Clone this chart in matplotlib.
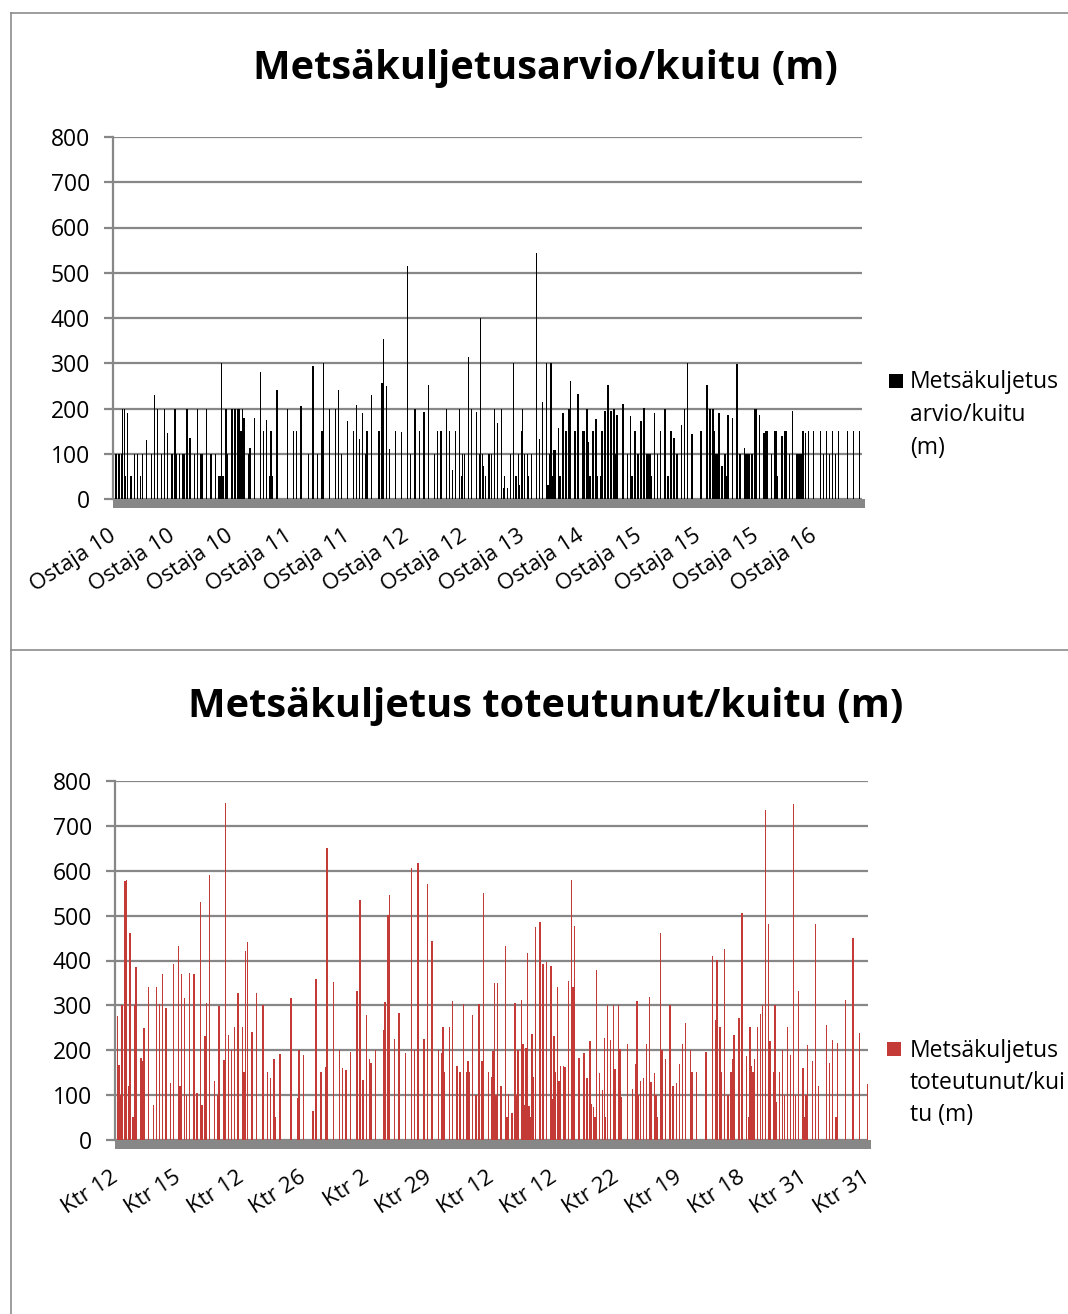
import matplotlib
matplotlib.use("Agg")
from matplotlib import pyplot as plt
from matplotlib.patches import Rectangle
from matplotlib.lines import Line2D
from matplotlib.transforms import ScaledTranslation
import numpy as np

plt.rcParams['font.family'] = ['Open Sans', 'DejaVu Sans']

# --- data: top chart, estimated haul distance per row (m) ---
arvio = [
    0, 100, 100, 100, 100, 100, 200, 200, 50, 190, 0, 50, 50, 0, 100, 0, 100, 0, 50, 100,
    0, 0, 130, 0, 0, 100, 0, 230, 0, 200, 0, 0, 100, 0, 200, 0, 145, 0, 0, 100,
    0, 200, 100, 0, 100, 0, 100, 100, 0, 200, 0, 135, 0, 0, 100, 0, 200, 0, 100, 100,
    0, 0, 200, 0, 0, 100, 0, 0, 100, 0, 50, 50, 300, 50, 0, 200, 100, 0, 0, 200,
    0, 200, 0, 200, 200, 150, 200, 180, 0, 0, 100, 112, 0, 0, 180, 0, 0, 0, 280, 0,
    150, 0, 175, 0, 50, 150, 50, 0, 0, 240, 0, 0, 0, 0, 0, 0, 200, 0, 0, 0,
    150, 0, 150, 0, 0, 205, 0, 0, 0, 0, 100, 0, 0, 295, 0, 0, 100, 0, 0, 150,
    300, 0, 0, 0, 200, 0, 0, 0, 200, 0, 240, 0, 100, 0, 0, 0, 173, 0, 0, 0,
    150, 0, 208, 0, 133, 0, 190, 0, 100, 150, 0, 0, 229, 0, 0, 0, 0, 150, 0, 257,
    353, 0, 250, 0, 111, 0, 0, 0, 150, 0, 0, 0, 149, 0, 0, 0, 515, 0, 100, 0,
    0, 200, 0, 0, 150, 0, 0, 193, 0, 0, 251, 0, 0, 0, 100, 0, 150, 0, 150, 150,
    0, 0, 200, 0, 150, 0, 64, 0, 150, 0, 0, 200, 50, 100, 100, 0, 0, 313, 0, 200,
    0, 0, 193, 0, 100, 401, 100, 72, 50, 0, 100, 100, 100, 0, 200, 0, 168, 0, 0, 200,
    24, 50, 0, 24, 0, 100, 0, 301, 50, 50, 100, 31, 150, 200, 100, 0, 100, 50, 0, 100,
    0, 0, 544, 0, 133, 0, 215, 0, 0, 301, 31, 100, 301, 50, 109, 109, 0, 157, 50, 0,
    190, 0, 150, 0, 200, 261, 0, 0, 150, 0, 231, 0, 0, 150, 150, 0, 200, 127, 50, 0,
    150, 0, 177, 50, 0, 50, 150, 0, 194, 0, 251, 0, 194, 0, 200, 100, 185, 0, 0, 0,
    209, 0, 0, 100, 0, 183, 50, 0, 150, 0, 100, 0, 172, 0, 201, 0, 100, 100, 100, 50,
    0, 190, 0, 100, 0, 150, 0, 0, 200, 0, 50, 0, 150, 0, 135, 0, 100, 0, 0, 164,
    0, 200, 0, 301, 0, 0, 144, 0, 0, 0, 0, 0, 150, 0, 0, 0, 251, 0, 200, 0,
    200, 150, 100, 100, 190, 0, 72, 0, 100, 50, 185, 0, 0, 178, 0, 0, 298, 0, 100, 0,
    0, 113, 100, 100, 100, 0, 100, 0, 200, 200, 0, 185, 0, 0, 145, 150, 150, 0, 0, 100,
    0, 150, 150, 50, 0, 0, 139, 0, 150, 150, 0, 100, 0, 194, 0, 0, 100, 100, 100, 100,
    150, 0, 145, 0, 150, 0, 0, 150, 0, 0, 0, 0, 150, 0, 100, 0, 150, 0, 100, 0,
    150, 0, 100, 0, 150, 0, 0, 0, 0, 0, 150, 0, 0, 0, 150, 0, 0, 0, 150, 0,
]
arvio_labels = ['Ostaja 10', 'Ostaja 10', 'Ostaja 10', 'Ostaja 11', 'Ostaja 11',
                'Ostaja 12', 'Ostaja 12', 'Ostaja 13', 'Ostaja 14', 'Ostaja 15',
                'Ostaja 15', 'Ostaja 15', 'Ostaja 16']

# --- data: bottom chart, realised haul distance per row (m) ---
toteutunut = [
    0, 276, 167, 100, 300, 0, 577, 580, 120, 461, 0, 51, 300, 386, 0, 0, 183, 176, 250, 0,
    0, 341, 0, 0, 78, 0, 341, 0, 303, 0, 370, 0, 294, 0, 0, 127, 0, 392, 0, 0,
    432, 120, 370, 0, 316, 100, 0, 372, 0, 0, 370, 0, 105, 0, 530, 78, 0, 232, 305, 0,
    591, 0, 0, 131, 0, 100, 299, 0, 0, 178, 751, 0, 234, 0, 200, 0, 252, 0, 328, 0,
    0, 252, 152, 421, 441, 0, 0, 241, 0, 0, 328, 0, 0, 0, 300, 0, 0, 152, 0, 138,
    0, 180, 51, 0, 0, 192, 0, 0, 0, 0, 0, 0, 316, 0, 0, 0, 94, 200, 0, 0,
    189, 0, 0, 0, 0, 0, 65, 0, 359, 0, 0, 152, 0, 0, 163, 651, 0, 0, 0, 352,
    0, 0, 0, 200, 0, 160, 0, 156, 0, 0, 196, 0, 0, 0, 332, 0, 535, 0, 134, 0,
    279, 0, 180, 172, 0, 0, 200, 0, 0, 0, 0, 245, 308, 0, 501, 546, 0, 0, 225, 0,
    0, 283, 0, 0, 0, 194, 0, 0, 0, 606, 0, 200, 0, 617, 0, 0, 0, 225, 0, 571,
    0, 0, 443, 0, 0, 0, 200, 0, 194, 252, 152, 0, 0, 252, 0, 310, 0, 0, 165, 0,
    152, 0, 303, 0, 152, 176, 152, 0, 279, 0, 100, 0, 303, 0, 176, 551, 0, 0, 152, 0,
    140, 198, 350, 100, 350, 0, 120, 0, 0, 432, 51, 103, 0, 60, 0, 305, 100, 200, 0, 312,
    214, 78, 205, 417, 76, 51, 236, 140, 475, 0, 0, 486, 0, 392, 0, 397, 0, 0, 388, 91,
    232, 152, 341, 131, 165, 0, 165, 163, 0, 354, 0, 580, 341, 477, 0, 0, 183, 0, 0, 194,
    0, 138, 0, 221, 80, 74, 51, 379, 0, 149, 0, 111, 227, 51, 300, 0, 223, 0, 300, 158,
    0, 300, 203, 96, 0, 0, 0, 214, 0, 0, 114, 0, 169, 310, 100, 131, 0, 138, 0, 214,
    0, 319, 129, 0, 149, 100, 51, 0, 461, 200, 0, 180, 0, 0, 300, 0, 120, 0, 127, 0,
    169, 0, 214, 0, 261, 0, 0, 200, 152, 0, 0, 152, 0, 0, 0, 0, 0, 196, 0, 0,
    0, 410, 0, 267, 401, 0, 252, 152, 0, 426, 0, 100, 0, 152, 180, 234, 0, 0, 272, 0,
    506, 0, 0, 187, 51, 252, 165, 152, 180, 0, 252, 0, 281, 300, 0, 735, 0, 481, 221, 0,
    152, 300, 85, 0, 152, 0, 200, 100, 0, 252, 0, 189, 0, 749, 100, 0, 332, 0, 0, 160,
    51, 100, 212, 0, 0, 176, 0, 481, 0, 120, 0, 0, 0, 0, 256, 0, 172, 0, 223, 0,
    51, 216, 0, 0, 0, 0, 312, 0, 0, 0, 0, 450, 0, 0, 0, 238, 0, 0, 0, 0,
    125,
]
toteutunut_labels = ['Ktr 12', 'Ktr 15', 'Ktr 12', 'Ktr 26', 'Ktr 2', 'Ktr 29',
                     'Ktr 12', 'Ktr 12', 'Ktr 22', 'Ktr 19', 'Ktr 18', 'Ktr 31',
                     'Ktr 31']

GRID = '#878787'
W, H = 1068, 1314


def fx(px):
    return px / W


def fy(py):
    return 1 - py / H


def draw_panel(fig, rect, values, labels, step, color, title, title_y,
               legend_lines, legend_box, legend_y):
    ax = fig.add_axes(rect)
    x = np.arange(len(values))
    ax.bar(x, values, width=0.9, color=color, linewidth=0, antialiased=False)
    ax.set_xlim(-0.5, len(values) - 0.5)
    ax.set_ylim(0, 800)
    ax.set_yticks(range(0, 801, 100))
    ax.yaxis.grid(True, color=GRID, linewidth=1.6)
    ax.set_axisbelow(True)
    for s in ['top', 'right', 'bottom']:
        ax.spines[s].set_visible(False)
    ax.spines['left'].set_color(GRID)
    ax.spines['left'].set_linewidth(1.6)
    ax.tick_params(axis='y', length=6.5, width=1.6, color=GRID,
                   labelsize=16.5, pad=10)
    ax.set_xticks(x[::step])
    ax.set_xticklabels(labels, rotation=33, ha='right', va='top',
                       rotation_mode='anchor', fontsize=16)
    ax.tick_params(axis='x', length=0, pad=19)
    shift = ScaledTranslation(-5 / 100, 0, fig.dpi_scale_trans)
    for lab in ax.get_xticklabels():
        lab.set_transform(lab.get_transform() + shift)
    # grey floor under the bars
    h = 9 / (rect[3] * H)
    ax.add_patch(Rectangle((0, -h), 1.004, h, transform=ax.transAxes,
                           color=GRID, clip_on=False, linewidth=0))

    fig.text(0.511, title_y, title, fontsize=28.6, fontweight='bold',
             ha='center', va='center')

    bx, by = legend_box
    fig.add_artist(Rectangle((fx(bx), fy(by + 14)), fx(14), 14 / H,
                             transform=fig.transFigure, color=color,
                             linewidth=0))
    for line, yy in zip(legend_lines, legend_y):
        fig.text(fx(910), fy(yy), line, fontsize=16.5, va='baseline',
                 ha='left')
    return ax


fig = plt.figure(figsize=(W / 100, H / 100), dpi=100)

# panel frames
frame = dict(color='#8c8c8c', linewidth=1.2, transform=fig.transFigure)
fig.add_artist(Line2D([fx(10.5), fx(10.5)], [fy(13), fy(H)], **frame))
fig.add_artist(Line2D([fx(10.5), 1], [fy(13), fy(13)], **frame))
fig.add_artist(Line2D([fx(10.5), 1], [fy(650), fy(650)], **frame))

draw_panel(fig, [fx(113), fy(499), fx(749), 362 / H], arvio, arvio_labels, 39,
           'black', 'Metsäkuljetusarvio/kuitu (m)', fy(68),
           ['Metsäkuljetus', 'arvio/kuitu', '(m)'], (889, 374),
           [388, 421, 454])

draw_panel(fig, [fx(115), fy(1140), fx(753), 359 / H], toteutunut,
           toteutunut_labels, 40, '#C43A36',
           'Metsäkuljetus toteutunut/kuitu (m)', fy(706),
           ['Metsäkuljetus', 'toteutunut/kui', 'tu (m)'], (887, 1042),
           [1057, 1089, 1121])

fig.savefig('out.png', dpi=100)
